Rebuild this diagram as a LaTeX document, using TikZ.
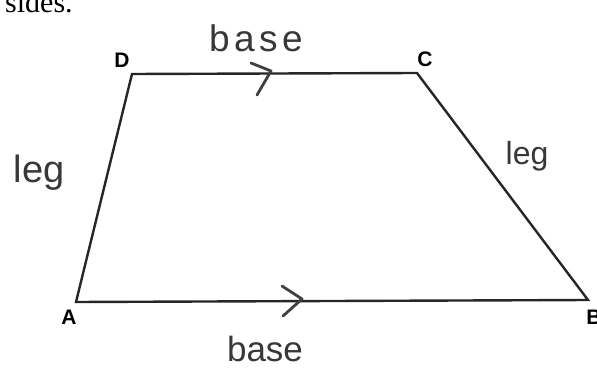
\documentclass[tikz,border=0pt]{standalone}
\usepackage{fontspec}
\setmainfont{Liberation Serif}
\newfontfamily\hand{Liberation Sans}
\newfontfamily\handwide{Liberation Sans}[LetterSpace=12]
\newfontfamily\lab{Liberation Sans}
\begin{document}
\begin{tikzpicture}[x=1pt,y=-1pt,
  edge/.style={line width=2.4pt,draw=black!85,line join=miter},
  chev/.style={line width=2.8pt,draw=black!75,line cap=round,line join=round},
  vlab/.style={font=\lab\bfseries\fontsize{21}{21}\selectfont,inner sep=0pt},
  hw/.style={text=black!78,inner sep=0pt,anchor=base}]
\useasboundingbox (0,0) rectangle (597,369);
\fill[white] (0,0) rectangle (597,369);
\coordinate (A) at (76,302);
\coordinate (B) at (588,300);
\coordinate (C) at (417,73);
\coordinate (D) at (132,74);
\draw[edge] (A) -- (B) -- (C) -- (D) -- cycle;
% chevrons
\coordinate (t1) at (251,63);
\coordinate (t2) at (271,71);
\coordinate (t3) at (257,95);
\draw[chev] (t1) -- (t2) -- (t3);
\coordinate (b1) at (282,286);
\coordinate (b2) at (302,299);
\coordinate (b3) at (283,316);
\draw[chev] (b1) -- (b2) -- (b3);
% vertex labels
\node[vlab] (lA) at (69,317) {A};
\node[vlab] (lB) at (594,317) {B};
\node[vlab] (lC) at (425,59) {C};
\node[vlab] (lD) at (122,60) {D};
% handwritten labels
\node[hw,font=\handwide\fontsize{37}{37}\selectfont] (base1) at (256,52) {base};
\node[hw,font=\hand\fontsize{35}{35}\selectfont] (base2) at (265,361) {base};
\node[hw,font=\hand\fontsize{38}{38}\selectfont] (leg1) at (39,182) {leg};
\node[hw,font=\hand\fontsize{32}{32}\selectfont] (leg2) at (527,164) {leg};
% cut-off text at top
\node[inner sep=0pt,anchor=base west,font=\fontsize{30}{30}\selectfont] (sides) at (5,13) {sides.};
\end{tikzpicture}
\end{document}
